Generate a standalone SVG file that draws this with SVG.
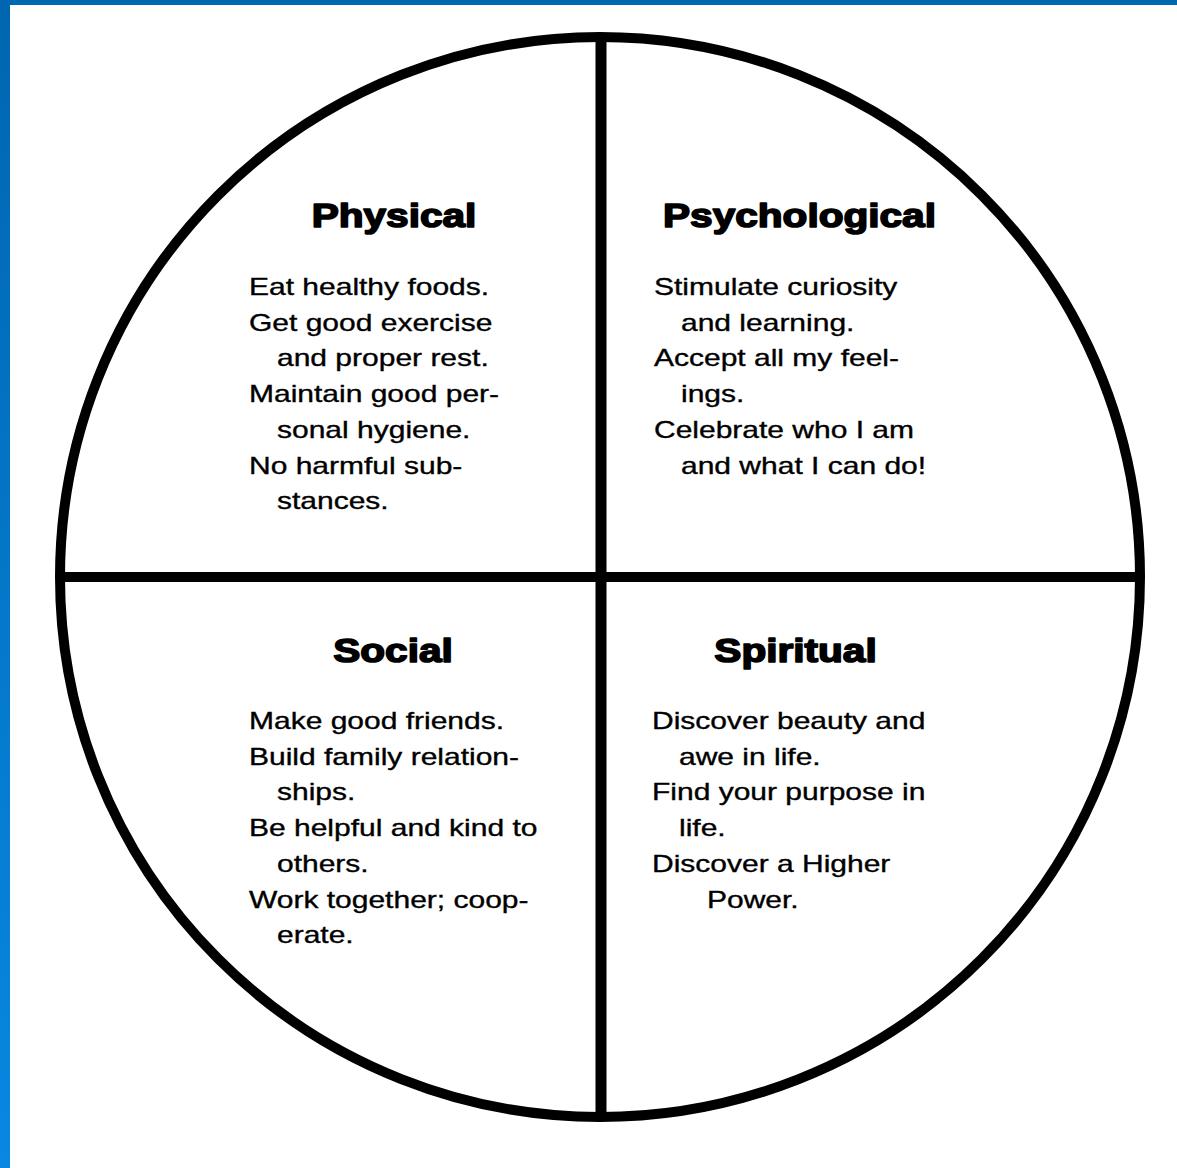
<svg xmlns="http://www.w3.org/2000/svg" width="1177" height="1168" viewBox="0 0 1177 1168">
  <defs>
    <linearGradient id="sideBar" x1="0" y1="0" x2="0" y2="1">
      <stop offset="0" stop-color="#0066B0"/>
      <stop offset="1" stop-color="#0888E2"/>
    </linearGradient>
    <style>
      .head { font-family: "Liberation Sans", Arial, sans-serif; font-weight: bold; font-size: 33px; fill: #000; stroke: #000; stroke-width: 1.6px; stroke-linejoin: round; text-anchor: middle; }
      .body { font-family: "Liberation Sans", Arial, sans-serif; font-size: 24px; fill: #000; stroke: #000; stroke-width: 0.35px; }
      .line { stroke: #000; fill: none; }
    </style>
  </defs>

  <rect x="0" y="0" width="1177" height="1168" fill="#ffffff"/>
  <rect id="top-bar" x="0" y="0" width="1177" height="5" fill="#0068B0"/>
  <rect id="side-bar" x="0" y="0" width="10" height="1168" fill="url(#sideBar)"/>

  <g id="wheel" class="line">
    <circle cx="600" cy="577" r="540" stroke-width="10"/>
    <line x1="601" y1="37" x2="601" y2="1117" stroke-width="11"/>
    <line x1="60" y1="577" x2="1140" y2="577" stroke-width="10"/>
  </g>

  <g id="physical">
    <text class="head" transform="translate(394,227) scale(1.23,1)">Physical</text>
    <text class="body" transform="translate(249,295) scale(1.25,1)">Eat healthy foods.</text>
    <text class="body" transform="translate(249,330.7) scale(1.25,1)">Get good exercise</text>
    <text class="body" transform="translate(277,366.4) scale(1.25,1)">and proper rest.</text>
    <text class="body" transform="translate(249,402.1) scale(1.25,1)">Maintain good per-</text>
    <text class="body" transform="translate(277,437.8) scale(1.25,1)">sonal hygiene.</text>
    <text class="body" transform="translate(249,473.5) scale(1.25,1)">No harmful sub-</text>
    <text class="body" transform="translate(277,509.2) scale(1.25,1)">stances.</text>
  </g>

  <g id="psychological">
    <text class="head" transform="translate(799.5,227) scale(1.23,1)">Psychological</text>
    <text class="body" transform="translate(654,295) scale(1.25,1)">Stimulate curiosity</text>
    <text class="body" transform="translate(681,330.7) scale(1.25,1)">and learning.</text>
    <text class="body" transform="translate(654,366.4) scale(1.25,1)">Accept all my feel-</text>
    <text class="body" transform="translate(681,402.1) scale(1.25,1)">ings.</text>
    <text class="body" transform="translate(654,437.8) scale(1.25,1)">Celebrate who I am</text>
    <text class="body" transform="translate(681,473.5) scale(1.25,1)">and what I can do!</text>
  </g>

  <g id="social">
    <text class="head" transform="translate(393,662) scale(1.23,1)">Social</text>
    <text class="body" transform="translate(249,729) scale(1.25,1)">Make good friends.</text>
    <text class="body" transform="translate(249,764.7) scale(1.25,1)">Build family relation-</text>
    <text class="body" transform="translate(277,800.4) scale(1.25,1)">ships.</text>
    <text class="body" transform="translate(249,836.1) scale(1.25,1)">Be helpful and kind to</text>
    <text class="body" transform="translate(277,871.8) scale(1.25,1)">others.</text>
    <text class="body" transform="translate(249,907.5) scale(1.25,1)">Work together; coop-</text>
    <text class="body" transform="translate(277,943.2) scale(1.25,1)">erate.</text>
  </g>

  <g id="spiritual">
    <text class="head" transform="translate(795.5,662) scale(1.23,1)">Spiritual</text>
    <text class="body" transform="translate(652,729) scale(1.25,1)">Discover beauty and</text>
    <text class="body" transform="translate(679,764.7) scale(1.25,1)">awe in life.</text>
    <text class="body" transform="translate(652,800.4) scale(1.25,1)">Find your purpose in</text>
    <text class="body" transform="translate(679,836.1) scale(1.25,1)">life.</text>
    <text class="body" transform="translate(652,871.8) scale(1.25,1)">Discover a Higher</text>
    <text class="body" transform="translate(707,907.5) scale(1.25,1)">Power.</text>
  </g>
</svg>
